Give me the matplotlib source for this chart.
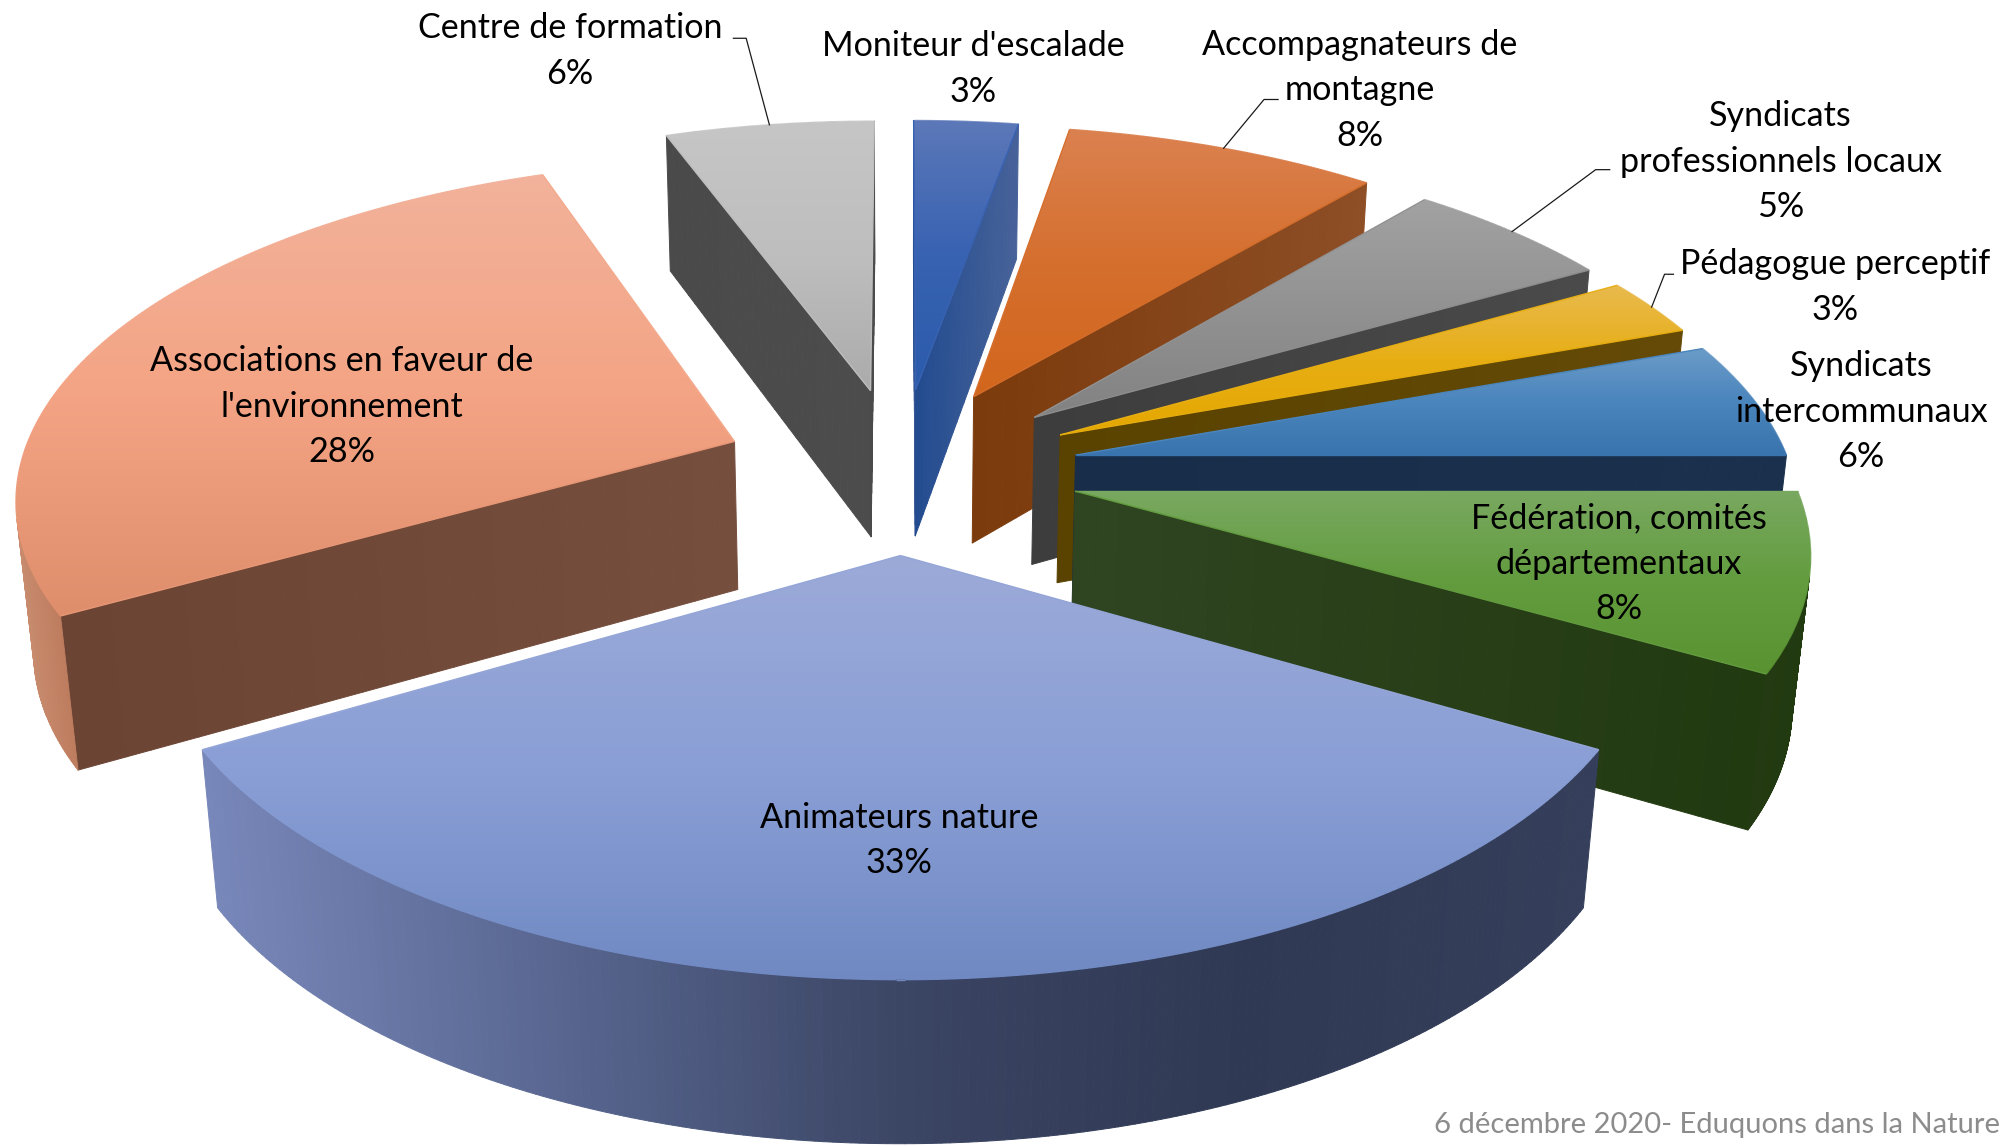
import numpy as np
import matplotlib
matplotlib.use("Agg")
import matplotlib.pyplot as plt
from matplotlib.collections import PolyCollection, LineCollection
from matplotlib.colors import LinearSegmentedColormap
from matplotlib.patches import Polygon

# donnees
categories = ["Animateurs nature", "Associations en faveur de\nl'environnement", "Centre de formation",
              "Moniteur d'escalade", "Accompagnateurs de\nmontagne", "Syndicats\nprofessionnels locaux",
              "Pédagogue perceptif", "Syndicats\nintercommunaux", "Fédération, comités\ndépartementaux"]
reponses = [12, 10, 2, 1, 3, 2, 1, 2, 3]
pourcents = ["33%", "28%", "6%", "3%", "8%", "5%", "3%", "6%", "8%"]
note = "6 décembre 2020- Eduquons dans la Nature"

# couleurs : dessus (haut -> bas), faces radiales et arc (gauche -> droite)
dessus = [["#9CAAD8", "#8A9FD6", "#7089C2"], ["#F2B29B", "#F4A484", "#DF8E6C"], ["#C6C6C6", "#BEBEBE", "#ABABAB"],
          ["#5C78B8", "#3862B2", "#2C5BAB"], ["#DB8150", "#D56F2E", "#D2661C"], ["#A2A2A2", "#929292", "#828282"],
          ["#E9BA4E", "#E7AE14", "#E5A700"], ["#6C9CC8", "#4A85BD", "#3A74AE"], ["#79A860", "#629C3E", "#599331"]]
radial = [["#2F3953", "#353F5B"], ["#6B4433", "#764E3E"], ["#4A4A4A", "#4C4C4C"],
          ["#234C90", "#476299"], ["#7C3B0C", "#8E4E26"], ["#3D3D3D", "#4A4A4A"],
          ["#5A4200", "#644A06"], ["#182D49", "#1A304C"], ["#2F4421", "#223A10"]]
arc = [["#7887B9", "#586690", "#3B4564", "#2F3953", "#353F5B"], ["#C88B6E", "#BE7C5E"], ["#4A4A4A", "#4A4A4A"],
       ["#476299", "#476299"], ["#8E4E26", "#8E4E26"], ["#4A4A4A", "#4A4A4A"],
       ["#644A06", "#644A06"], ["#1A304C", "#1A304C"], ["#233A12", "#223A10"]]

# projection (repere de l'image en 1568 x 898)
CX, Y0, S, B = 706, 368, 561, 260
A, C, QX, QY = 0.15, 131.4, 0.02, 0.03
ECLATE = 0.25

# position des etiquettes (x, y du centre de la premiere ligne)
pos_labels = [(705, 640), (268, 282), (447, 21), (763, 35), (1066, 34), (1396, 90), (1439, 206), (1459, 286), (1269, 405)]
PAS = 35.6
# coude des traits de rappel
rappels = {2: [(575, 30), (585, 30)], 4: [(1002, 78), (991, 78)], 5: [(1262, 133), (1251, 133)], 6: [(1312, 215), (1305, 215)]}

plt.rcParams['font.family'] = ['Lato', 'DejaVu Sans']


def projeter(x, y, z=0.0):
    w = 1 + A * y
    X = CX + S * x / (w + QX * z)
    Y = (Y0 * w - B * y + C * z) / (w + QY * z)
    return X, Y


def bande(ax, xw, yw, couleurs, zo):
    # face laterale : quads visibles seulement, couleur selon x
    xh, yh = projeter(xw, yw, 0.0)
    xb, yb = projeter(xw, yw, 1.0)
    dx, dy = np.diff(xh), np.diff(yh)
    visible = dy * (xb[:-1] - xh[:-1]) - dx * (yb[:-1] - yh[:-1]) > 0
    if not visible.any():
        return
    cmap = LinearSegmentedColormap.from_list("f", couleurs)
    xm = (xh[:-1] + xh[1:]) / 2
    lo, hi = xm[visible].min(), xm[visible].max()
    t = (xm - lo) / max(hi - lo, 1)
    polys, cols = [], []
    for i in np.where(visible)[0]:
        polys.append([(xh[i], yh[i]), (xh[i + 1], yh[i + 1]), (xb[i + 1], yb[i + 1]), (xb[i], yb[i])])
        cols.append(cmap(t[i]))
    ax.add_collection(PolyCollection(polys, facecolors=cols, edgecolors=cols, linewidths=0.7, zorder=zo))


fig = plt.figure(figsize=(20, 11.46), dpi=100)
ax = fig.add_axes([0, 0, 1, 1])

parts = np.array(reponses) / sum(reponses) * 360
debuts = 120 + np.concatenate([[0], np.cumsum(parts)[:-1]])
milieux = np.radians(debuts + parts / 2)
ex, ey = ECLATE * np.sin(milieux), ECLATE * np.cos(milieux)

for rang, i in enumerate(np.argsort(-ey)):
    zo = 10 + rang * 4
    ang = np.radians(np.linspace(debuts[i], debuts[i] + parts[i], 200))
    ax_x, ax_y = ex[i] + np.sin(ang), ey[i] + np.cos(ang)
    s = np.linspace(0, 1, 30)
    bande(ax, ex[i] + s * (ax_x[0] - ex[i]), ey[i] + s * (ax_y[0] - ey[i]), radial[i], zo)
    bande(ax, ax_x[-1] + s * (ex[i] - ax_x[-1]), ax_y[-1] + s * (ey[i] - ax_y[-1]), radial[i], zo)
    bande(ax, ax_x, ax_y, arc[i], zo + 1)

    # dessus avec degrade vertical
    px, py = projeter(np.r_[ex[i], ax_x, ex[i]], np.r_[ey[i], ax_y, ey[i]])
    cmap = LinearSegmentedColormap.from_list("d", dessus[i])
    grad = np.linspace(0, 1, 256).reshape(-1, 1)
    im = ax.imshow(grad, cmap=cmap, extent=[px.min(), px.max(), py.max(), py.min()], aspect='auto', zorder=zo + 2)
    im.set_clip_path(Polygon(np.c_[px, py], transform=ax.transData))
    # contour pour lisser le bord de la decoupe
    segs = np.stack([np.c_[px[:-1], py[:-1]], np.c_[px[1:], py[1:]]], axis=1)
    ty = ((py[:-1] + py[1:]) / 2 - py.min()) / (py.max() - py.min())
    ax.add_collection(LineCollection(segs, colors=cmap(ty), linewidths=1.0, zorder=zo + 3))

# traits de rappel
for i, coude in rappels.items():
    m = milieux[i]
    bx, by = projeter(ex[i] + np.sin(m), ey[i] + np.cos(m))
    ax.plot([coude[0][0], coude[1][0], bx], [coude[0][1], coude[1][1], by], color="#1A1A1A", lw=0.9, zorder=90)

# etiquettes
for i, nom in enumerate(categories):
    x, y = pos_labels[i]
    for k, ligne in enumerate(nom.split("\n") + [pourcents[i]]):
        ax.text(x, y + k * PAS + 9, ligne, ha='center', va='baseline', fontsize=24.6, color="#000000", zorder=100)

ax.text(1568, 888, note, ha='right', va='baseline', fontsize=21, color="#8C8C8C", zorder=100)

ax.set_xlim(0, 1568)
ax.set_ylim(898.4, 0)
ax.axis('off')
fig.savefig("out.png", dpi=100, facecolor="white")
